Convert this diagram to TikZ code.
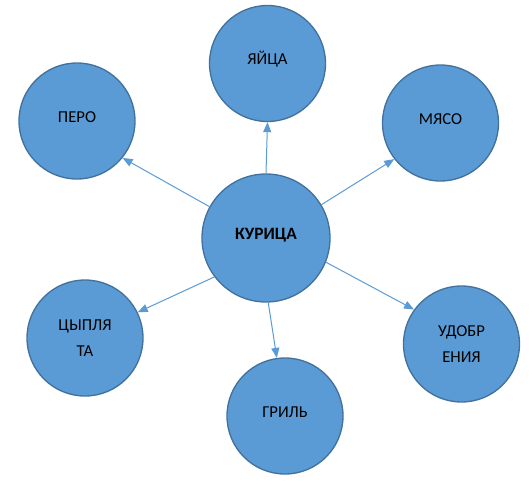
\documentclass[tikz,border=0pt]{standalone}
\usepackage{fontspec}
\setmainfont{Carlito}
\usetikzlibrary{arrows.meta}
\definecolor{bubblefill}{HTML}{5B9BD5}
\definecolor{bubbleline}{HTML}{41719C}

\begin{document}
\begin{tikzpicture}[x=0.75pt, y=-0.75pt,
    every node/.style={font=\fontsize{12.5}{19}\selectfont},
    bubble/.style={draw=bubbleline, line width=1pt, fill=bubblefill, circle,
                   minimum size=#1, inner sep=0pt, align=center},
    bubble/.default=87pt,
    lift/.style={text height=0.5em, text depth=0.28em},
    link/.style={draw=bubblefill, line width=0.75pt, -{Triangle[length=7.5pt, width=6pt]}},
]
\useasboundingbox (0,0) rectangle (532,486);

% Centre
\node[bubble=96pt, lift, font=\fontsize{13}{19}\selectfont\bfseries] (kur) at (266,238) {КУРИЦА};

% Outer circles
\node[bubble, lift] (yaica)  at (267.5,63.5) {ЯЙЦА};
\node[bubble, lift] (pero)   at (77,121)     {ПЕРО};
\node[bubble, lift] (myaso)  at (440.5,123)  {МЯСО};
\node[bubble] (cyp)          at (85,338)     {ЦЫПЛЯ\\ТА};
\node[bubble, lift] (gril)   at (285,416)    {ГРИЛЬ};
\node[bubble] (udobr)        at (461.5,344)  {УДОБР\\ЕНИЯ};

% Arrows from the centre
\draw[link] (kur.151) -- (pero.-39);
\draw[link] (kur.90)  -- (yaica.-90);
\draw[link] (kur.31)  -- (myaso.218);
\draw[link] (kur.217) -- (cyp.26);
\draw[link] (kur.272) -- (gril.98);
\draw[link] (kur.338) -- (udobr.144);

\end{tikzpicture}
\end{document}
